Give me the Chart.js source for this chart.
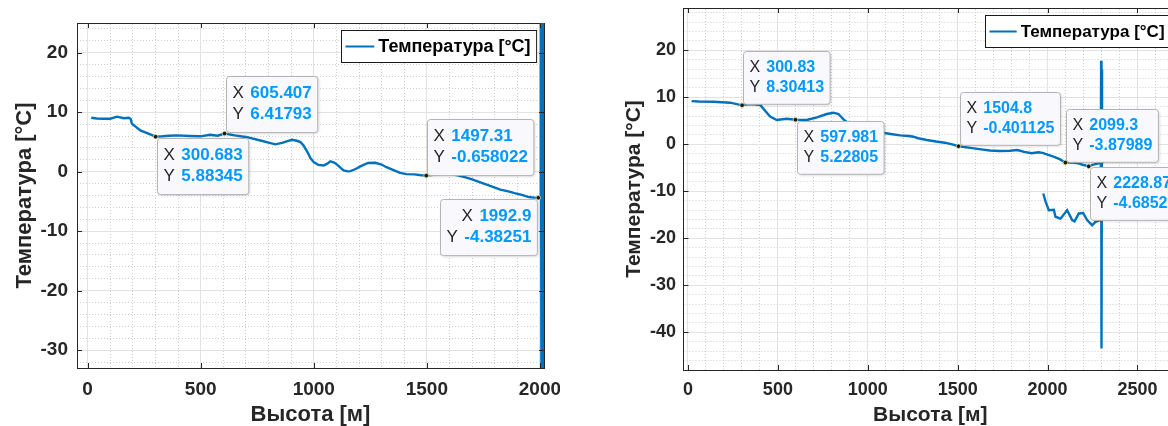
<!DOCTYPE html>
<html>
<head>
<meta charset="utf-8">
<script src="https://cdn.jsdelivr.net/npm/chart.js@4.4.0/dist/chart.umd.min.js"></script>
<style>
html, body { margin: 0; padding: 0; background: #fff; overflow: hidden; width: 1168px; height: 426px; }
#wrapL { position: absolute; left: 0; top: 0; width: 560px; height: 426px; }
#wrapR { position: absolute; left: 590px; top: 0; width: 600px; height: 426px; }
</style>
</head>
<body>
<div id="wrapL"><canvas id="chartL" width="560" height="426"></canvas></div>
<div id="wrapR"><canvas id="chartR" width="600" height="426"></canvas></div>
<script>
// ---- data: left flight ----
const heightL = [16, 40, 71, 100, 130, 160, 181, 190, 196, 215,
    233, 255, 277, 300.683, 330, 360, 395, 450, 498, 542,
    575, 605.407, 650, 705, 764, 800, 830, 860, 880, 904,
    925, 941, 955, 972, 985, 1000, 1020, 1044, 1060, 1073,
    1090, 1103, 1120, 1132, 1150, 1162, 1185, 1206, 1240, 1272,
    1300, 1319, 1350, 1382, 1410, 1445, 1475, 1497.31, 1520, 1540,
    1570, 1603, 1635, 1667, 1700, 1746, 1780, 1825, 1860, 1888,
    1920, 1951, 1975, 1992.9, 2001, 2004, 2007, 2010, 2013, 2015, 2017];
const tempL = [9.08, 8.95, 8.9, 8.9, 9.25, 9.0, 9.06, 8.9, 8.05, 7.5,
    6.93, 6.6, 6.26, 5.88345, 5.95, 6.05, 6.1, 6.0, 5.95, 6.2,
    6.05, 6.41793, 6.1, 5.8, 5.25, 4.9, 4.6, 4.85, 5.1, 5.37,
    5.2, 4.97, 4.4, 3.3, 2.3, 1.6, 1.15, 1.06, 1.35, 1.73,
    1.55, 1.2, 0.6, 0.2, 0.05, 0.1, 0.45, 0.9, 1.46, 1.5,
    1.2, 0.8, 0.3, -0.2, -0.4, -0.45, -0.6, -0.658022, -0.56, -0.5,
    -0.3, -0.34, -0.6, -0.9, -1.3, -1.9, -2.4, -3.0, -3.3, -3.6,
    -3.9, -4.26, -4.35, -4.38251, -4.4, 40, -45, 40, -45, 35, -1.7];

// ---- data: right flight ----
const heightR = [20, 60, 142, 235, 300.83, 330, 355, 402, 429, 457,
    494, 550, 597.981, 661, 717, 772, 809, 837, 865, 900,
    950, 1000, 1040, 1085, 1127, 1180, 1228, 1254, 1280, 1328,
    1380, 1428, 1470, 1504.8, 1560, 1630, 1680, 1731, 1790, 1832,
    1870, 1911, 1950, 1972, 2000, 2033, 2070, 2099.3, 2140, 2172,
    2200, 2228.87, 2255, 2283, 2300, 2312, 2296, 2298, 2300, 2303,
    2303, 2296, 2294, 2267, 2248, 2220, 2198, 2174, 2150, 2137,
    2109, 2072, 2044, 2035, 2007, 1989, 1976];
const tempR = [9.2, 9.1, 9.07, 8.86, 8.30413, 8.5, 8.58, 8.37, 7.16, 5.9,
    5.17, 5.45, 5.22805, 5.17, 5.75, 6.45, 6.73, 6.45, 5.3, 4.3,
    3.4, 2.9, 2.6, 2.47, 2.2, 1.9, 1.77, 1.62, 1.3, 0.92,
    0.6, 0.35, 0.0, -0.401125, -0.7, -1.07, -1.3, -1.43, -1.35, -1.2,
    -1.6, -1.9, -1.7, -1.8, -2.2, -2.6, -3.2, -3.87989, -3.9, -4.05,
    -4.4, -4.68525, -4.3, -4.05, -3.8, -3.6, -4.2, 17.8, -43.4, 15.9,
    7.3, -16.1, -16.1, -16.5, -17.2, -16.1, -14.6, -14.7, -16.4, -16.1,
    -14.0, -15.8, -15.4, -13.9, -14.0, -12.2, -10.45];

// ---- ticks ----
const xTicksL = [0, 500, 1000, 1500, 2000];
const yTicksL = [-30, -20, -10, 0, 10, 20];
const xTicksR = [0, 500, 1000, 1500, 2000, 2500];
const yTicksR = [-40, -30, -20, -10, 0, 10, 20];

// ---- data tips (x, y, side) ----
const tipsL = [[300.683, 5.88345, "se"], [605.407, 6.41793, "ne"], [1497.31, -0.658022, "ne"], [1992.9, -4.38251, "sw"]];
const tipsR = [[300.83, 8.30413, "ne"], [597.981, 5.22805, "se"], [1504.8, -0.401125, "ne"], [2099.3, -3.87989, "ne"], [2228.87, -4.68525, "se"]];

const seriesLabel = "Температура [°C]";
const xTitle = "Высота [м]";
const yTitle = "Температура [°C]";

const FONT = '"Liberation Sans", Arial, Helvetica, sans-serif';
const INK = "#262626";
const LINE = "#0072BD";

function minorList(min, max, step, major) {
    const out = [];
    for (let v = Math.ceil(min / step) * step; v <= max; v += step) {
        if (v % major !== 0) out.push({ value: v });
    }
    return out;
}

function decor(cfg) {
    return {
        id: "decor",
        afterDatasetsDraw(chart) {
            const ctx = chart.ctx;
            const a = chart.chartArea;
            const sx = chart.scales.x, sy = chart.scales.y;
            // inward tick marks on all four sides
            ctx.save();
            ctx.strokeStyle = INK;
            ctx.lineWidth = 1;
            ctx.beginPath();
            cfg.xTicks.forEach(function (v) {
                const p = Math.round(sx.getPixelForValue(v)) + 0.5;
                ctx.moveTo(p, a.bottom); ctx.lineTo(p, a.bottom - 5);
                ctx.moveTo(p, a.top); ctx.lineTo(p, a.top + 5);
            });
            cfg.yTicks.forEach(function (v) {
                const p = Math.round(sy.getPixelForValue(v)) + 0.5;
                ctx.moveTo(a.left, p); ctx.lineTo(a.left + 5, p);
                ctx.moveTo(a.right, p); ctx.lineTo(a.right - 5, p);
            });
            ctx.stroke();
            ctx.restore();

            // data tips
            const size = cfg.tipSize;
            const padX = 6, gap = size * 0.38;
            cfg.tips.forEach(function (t) {
                const px = sx.getPixelForValue(t[0]);
                const py = sy.getPixelForValue(t[1]);
                const rows = [["X", String(t[0])], ["Y", String(t[1])]];
                ctx.save();
                const widths = rows.map(function (r) {
                    ctx.font = size + "px " + FONT;
                    const lw = ctx.measureText(r[0]).width;
                    ctx.font = "bold " + size + "px " + FONT;
                    const vw = ctx.measureText(r[1]).width;
                    return { lw: lw, vw: vw, w: lw + gap + vw };
                });
                const w = Math.max(widths[0].w, widths[1].w) + padX * 2;
                const h = size * 3.3;
                let left, top;
                if (t[2] === "ne") { left = px + 1; top = py - 1 - h; }
                else if (t[2] === "se") { left = px + 1; top = py + 1; }
                else { left = px - 1 - w; top = py + 1; }
                left = Math.round(left) + 0.5; top = Math.round(top) + 0.5;

                ctx.shadowColor = "rgba(0,0,0,0.18)";
                ctx.shadowBlur = 3;
                ctx.shadowOffsetX = 1;
                ctx.shadowOffsetY = 1;
                ctx.beginPath();
                ctx.roundRect(left, top, w, h, 3);
                ctx.fillStyle = "#f9f9fd";
                ctx.fill();
                ctx.shadowColor = "transparent";
                ctx.strokeStyle = "#b4b4b4";
                ctx.lineWidth = 1;
                ctx.stroke();

                ctx.textBaseline = "middle";
                ctx.textAlign = "left";
                rows.forEach(function (r, i) {
                    const cy = top + size * (i === 0 ? 1.0 : 2.25);
                    const rw = widths[i];
                    const x0 = t[2] === "sw" ? left + w - padX - rw.w : left + padX;
                    ctx.font = size + "px " + FONT;
                    ctx.fillStyle = INK;
                    ctx.fillText(r[0], x0, cy);
                    ctx.font = "bold " + size + "px " + FONT;
                    ctx.fillStyle = "#0099ff";
                    ctx.fillText(r[1], x0 + rw.lw + gap, cy);
                });

                ctx.beginPath();
                ctx.arc(px, py, 2.3, 0, Math.PI * 2);
                ctx.fillStyle = "#1a1a1a";
                ctx.fill();
                ctx.strokeStyle = "rgba(235,235,170,0.9)";
                ctx.lineWidth = 0.8;
                ctx.stroke();
                ctx.restore();
            });
        },
        afterDraw(chart) {
            // boxed legend, top right inside the axes
            const ctx = chart.ctx;
            const a = chart.chartArea;
            const s = cfg.legSize;
            ctx.save();
            ctx.font = "bold " + s + "px " + FONT;
            const tw = ctx.measureText(seriesLabel).width;
            const lineLen = s * 1.6;
            const w = 4 + lineLen + 4 + tw + 6;
            const h = 32;
            const right = a.right - cfg.legGapX;
            const top = a.top + cfg.legGapY;
            const left = Math.round(right - w) + 0.5;
            const t0 = Math.round(top) + 0.5;
            ctx.fillStyle = "#fff";
            ctx.fillRect(left, t0, w, h);
            ctx.strokeStyle = "#1a1a1a";
            ctx.lineWidth = 1;
            ctx.strokeRect(left, t0, w, h);
            const cy = t0 + h / 2;
            ctx.beginPath();
            ctx.moveTo(left + 4, cy);
            ctx.lineTo(left + 4 + lineLen, cy);
            ctx.strokeStyle = LINE;
            ctx.lineWidth = 2;
            ctx.stroke();
            ctx.fillStyle = "#000";
            ctx.textBaseline = "middle";
            ctx.fillText(seriesLabel, left + 4 + lineLen + 4, cy + 1);
            ctx.restore();
        }
    };
}

function makeChart(id, o) {
    const points = o.xs.map(function (x, i) { return { x: x, y: o.ys[i] }; });
    return new Chart(document.getElementById(id).getContext("2d"), {
        type: "line",
        data: {
            datasets: [{
                label: seriesLabel,
                data: points,
                borderColor: LINE,
                borderWidth: 2.4,
                pointRadius: 0,
                tension: 0,
                fill: false,
            }],
        },
        options: {
            responsive: false,
            animation: false,
            devicePixelRatio: 1,
            layout: { padding: { left: 0, right: o.padR, top: o.padT, bottom: 0 } },
            plugins: { legend: { display: false }, tooltip: { enabled: false } },
            scales: {
                x: {
                    type: "linear", position: "bottom", min: o.xMin, max: o.xMax,
                    afterBuildTicks: function (s) { s.ticks = o.xTicks.map(function (v) { return { value: v }; }); },
                    afterFit: function (s) { s.height = o.xAxisH; s.paddingLeft = 0; s.paddingRight = 0; },
                    grid: { color: "#e2e2e2", lineWidth: 1, drawTicks: false },
                    border: { color: INK, width: 1 },
                    ticks: {
                        color: INK, padding: o.xPad, maxRotation: 0, autoSkip: false,
                        font: { family: FONT, size: o.tickSize, weight: "bold" },
                        callback: function (v) { return String(v); },
                    },
                    title: {
                        display: true, text: xTitle, color: INK, padding: 0,
                        font: { family: FONT, size: o.titleSize, weight: "bold", lineHeight: 1 },
                    },
                },
                xMinor: {
                    type: "linear", position: "top", min: o.xMin, max: o.xMax,
                    afterBuildTicks: function (s) { s.ticks = minorList(o.xMin, o.xMax, 100, 500); },
                    afterFit: function (s) { s.height = 0; s.paddingLeft = 0; s.paddingRight = 0; },
                    ticks: { display: false },
                    grid: { color: "#cfcfcf", lineWidth: 1, drawTicks: false, z: -2 },
                    border: { color: INK, width: 1, dash: [1, 2] },
                },
                y: {
                    type: "linear", position: "left", min: o.yMin, max: o.yMax,
                    afterBuildTicks: function (s) { s.ticks = o.yTicks.map(function (v) { return { value: v }; }); },
                    afterFit: function (s) { s.width = o.yAxisW; s.paddingTop = 0; s.paddingBottom = 0; },
                    grid: { color: "#e2e2e2", lineWidth: 1, drawTicks: false },
                    border: { color: INK, width: 1 },
                    ticks: {
                        color: INK, padding: o.yPad,
                        font: { family: FONT, size: o.tickSize, weight: "bold" },
                        callback: function (v) { return String(v); },
                    },
                    title: {
                        display: true, text: yTitle, color: INK, padding: { top: o.yTitlePad, bottom: 0 },
                        font: { family: FONT, size: o.titleSize, weight: "bold", lineHeight: 1.2 },
                    },
                },
                yMinor: {
                    type: "linear", position: "right", min: o.yMin, max: o.yMax,
                    afterBuildTicks: function (s) { s.ticks = minorList(o.yMin, o.yMax, 2, 10); },
                    afterFit: function (s) { s.width = 0; s.paddingTop = 0; s.paddingBottom = 0; },
                    ticks: { display: false },
                    grid: { color: "#cfcfcf", lineWidth: 1, drawTicks: false, z: -2 },
                    border: { color: INK, width: 1, dash: [1, 2] },
                },
            },
        },
        plugins: [decor({
            xTicks: o.xTicks, yTicks: o.yTicks, tips: o.tips,
            tipSize: o.tipSize, legSize: o.legSize, legGapX: o.legGapX, legGapY: o.legGapY,
        })],
    });
}

makeChart("chartL", {
    xs: heightL, ys: tempL, xTicks: xTicksL, yTicks: yTicksL, tips: tipsL,
    xMin: -47, xMax: 2018, yMin: -33, yMax: 25,
    padR: 16, padT: 23, yAxisW: 77, xAxisH: 58,
    tickSize: 19, titleSize: 22, xPad: 10, yPad: 9, yTitlePad: 12,
    tipSize: 17, legSize: 18, legGapX: 8, legGapY: 7,
});

makeChart("chartR", {
    xs: heightR, ys: tempR, xTicks: xTicksR, yTicks: yTicksR, tips: tipsR,
    xMin: -25, xMax: 2720, yMin: -48, yMax: 29,
    padR: 13, padT: 8, yAxisW: 93.5, xAxisH: 56,
    tickSize: 18, titleSize: 21, xPad: 9, yPad: 7.5, yTitlePad: 32,
    tipSize: 16, legSize: 17, legGapX: 7, legGapY: 6.5,
});
</script>
</body>
</html>
